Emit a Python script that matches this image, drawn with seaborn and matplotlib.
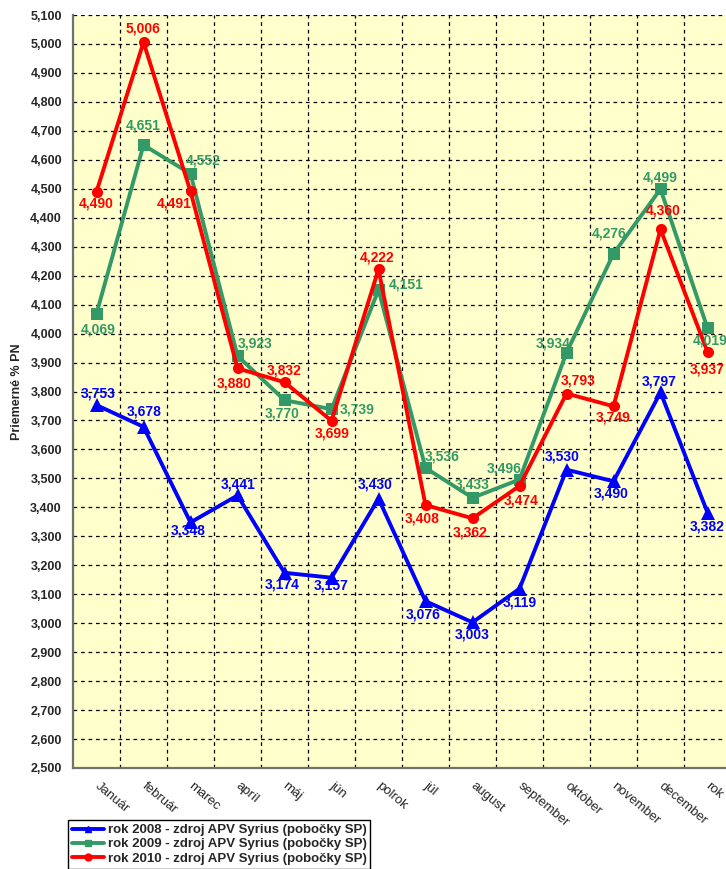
import numpy as np
import pandas as pd
import seaborn as sns
import matplotlib.pyplot as plt
from matplotlib.lines import Line2D
from matplotlib.ticker import FuncFormatter, MultipleLocator

months = ['Január', 'február', 'marec', 'apríl', 'máj', 'jún', 'polrok',
          'júl', 'august', 'september', 'október', 'november', 'december', 'rok']
names = ['rok 2008 - zdroj APV Syrius (pobočky SP)',
         'rok 2009 - zdroj APV Syrius (pobočky SP)',
         'rok 2010 - zdroj APV Syrius (pobočky SP)']
v2008 = [3753, 3678, 3348, 3441, 3174, 3157, 3430, 3076, 3003, 3119, 3530, 3490, 3797, 3382]
v2009 = [4069, 4651, 4552, 3923, 3770, 3739, 4151, 3536, 3433, 3496, 3934, 4276, 4499, 4019]
v2010 = [4490, 5006, 4491, 3880, 3832, 3699, 4222, 3408, 3362, 3474, 3793, 3749, 4360, 3937]

# label offsets in pixels (dx, dy up) per point
off2008 = [(2, 12), (1, 15), (-2, -8), (1, 11), (-2, -12), (0, -8), (-3, 14),
           (-2, -13), (0, -12), (0, -14), (-4, 13), (-2, -12), (-1, 11), (0, -14)]
off2009 = [(2, -16), (0, 20), (13, 13), (18, 12), (-2, -13), (26, 0), (28, 5),
           (17, 11), (0, 13), (-15, 11), (-13, 9), (-4, 20), (0, 12), (3, -12)]
off2010 = [(0, -12), (0, 14), (-16, -12), (-3, -15), (0, 12), (1, -13), (-2, 12),
           (-3, -13), (-2, -14), (2, -15), (12, 13), (0, -11), (3, 19), (0, -18)]

colors = ['#0000FF', '#339966', '#FF0000']
markers = ['^', 's', 'o']
msizes = [9.5, 8, 8]

sns.set_style('white')
plt.rcParams['font.family'] = ['Liberation Sans', 'DejaVu Sans']

fig = plt.figure(figsize=(7.26, 8.69), dpi=100)
ax = fig.add_axes([73 / 726, 101 / 869, 658 / 726, 753 / 869])
ax.set_facecolor('#FFFFCC')

series = [v2008, v2009, v2010]
offsets = [off2008, off2009, off2010]
for name, vals, col, mk, ms in zip(names, series, colors, markers, msizes):
    d = pd.DataFrame({'month': months, 'value': vals})
    sns.lineplot(data=d, x='month', y='value', sort=False, color=col, marker=mk,
                 markersize=ms, markeredgewidth=0, linewidth=2.8, ax=ax)

for vals, offs, col in zip(series, offsets, colors):
    for i, (v, o) in enumerate(zip(vals, offs)):
        ax.annotate(f'{v:,}', (i, v), xytext=o, textcoords='offset pixels',
                    ha='center', va='center', color=col, fontsize=10,
                    fontweight='bold')

ax.set_xlim(-0.5, len(months) - 0.5)
ax.set_ylim(2500, 5100)
ax.yaxis.set_major_locator(MultipleLocator(100))
ax.yaxis.set_major_formatter(FuncFormatter(lambda x, p: f'{int(x):,}'))
ax.set_xticks(range(len(months)))
ax.set_xticklabels(months, rotation=-40, ha='left', va='center',
                   rotation_mode='anchor', fontsize=9.5)
ax.set_xticks(np.arange(0.5, len(months) - 0.5), minor=True)
ax.tick_params(axis='x', which='major', length=0, pad=12)
ax.tick_params(axis='x', which='minor', length=5, width=1, color='#606060', direction='out')
ax.tick_params(axis='y', length=5, width=1, color='#606060', direction='out',
               labelsize=9, pad=3)
for t in ax.get_yticklabels():
    t.set_fontweight('bold')

ax.grid(True, axis='y', which='major', color='black', linestyle=(0, (3, 3)), linewidth=0.9)
ax.grid(True, axis='x', which='minor', color='black', linestyle=(0, (3, 3)), linewidth=0.9)
ax.grid(False, axis='x', which='major')
ax.get_ygridlines()[-1].set_visible(False)

for s in ['top', 'right']:
    ax.spines[s].set_visible(False)
for s in ['left', 'bottom']:
    ax.spines[s].set_color('#707070')
    ax.spines[s].set_linewidth(1.6)

ax.set_xlabel('')
ax.set_ylabel('Priemerné % PN', fontsize=9, fontweight='bold', labelpad=5)

handles = [Line2D([], [], color=c, marker=m, markersize=5, linewidth=2.8)
           for c, m in zip(colors, markers)]
fig.legend(handles, names, loc='upper left', bbox_to_anchor=(68 / 726, 1 - 820 / 869),
           frameon=True, fancybox=False, edgecolor='black', framealpha=1,
           prop={'weight': 'bold', 'size': 9.5}, handlelength=2.4,
           handletextpad=0.3, labelspacing=0.15, borderpad=0.3, borderaxespad=0)

fig.savefig('out.png', dpi=100)
